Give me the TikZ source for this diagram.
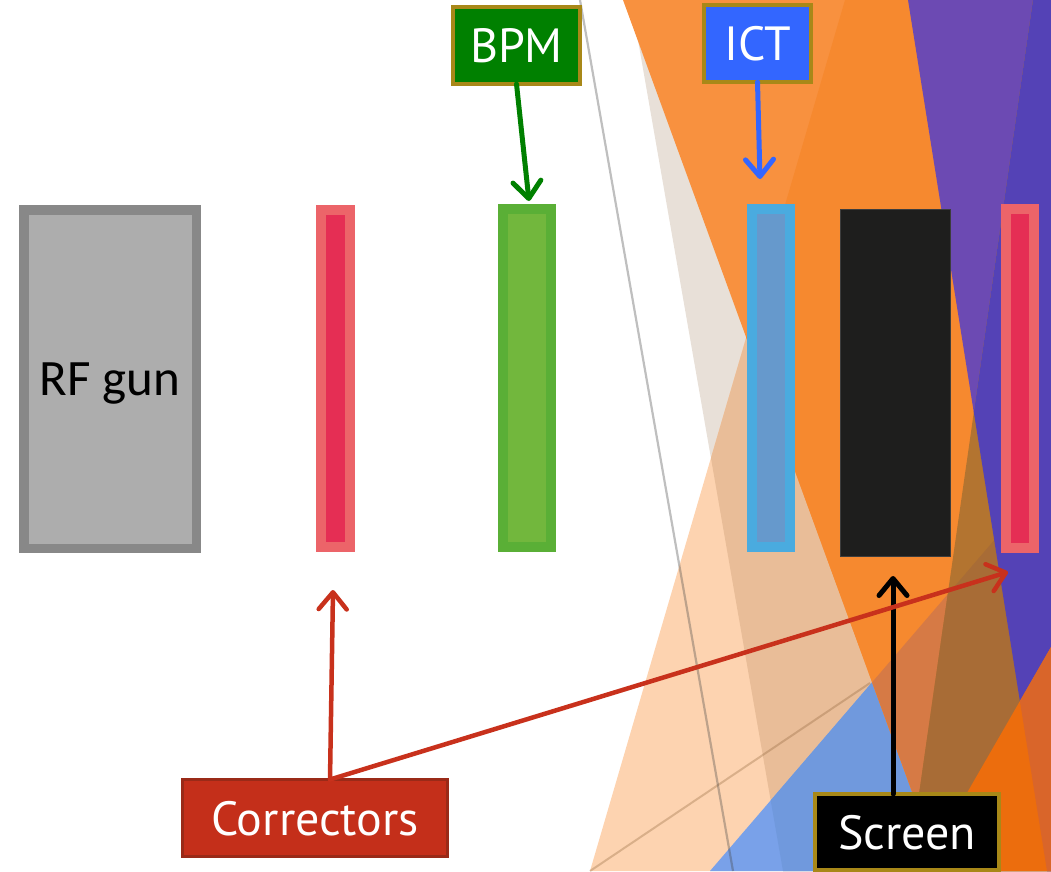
\documentclass[tikz,border=0pt]{standalone}
\usepackage{fontspec}
\usetikzlibrary{arrows.meta}
\newfontfamily\labfont{PT Sans}
\newfontfamily\gunfont{Carlito}

% background facets
\definecolor{beige}{HTML}{E8E0D8}
\definecolor{peach}{HTML}{FDD3B0}
\definecolor{tan}{HTML}{E9BD98}
\definecolor{bluelite}{HTML}{79A1E9}
\definecolor{bluedim}{HTML}{7099DD}
\definecolor{orglite}{HTML}{F8913F}
\definecolor{orgmain}{HTML}{F6892F}
\definecolor{orgblue}{HTML}{D67A45}
\definecolor{purlite}{HTML}{6C4AB3}
\definecolor{purdark}{HTML}{5442B6}
\definecolor{brownup}{HTML}{B37430}
\definecolor{brownlow}{HTML}{A86C36}
\definecolor{orgbright}{HTML}{EC6D0D}
\definecolor{orgrust}{HTML}{D9652A}
\definecolor{facetline}{HTML}{474747}
\definecolor{facetbrown}{HTML}{865C32}
% beamline elements
\definecolor{gunborder}{HTML}{888888}
\definecolor{gunfill}{HTML}{ADADAD}
\definecolor{corrborder}{HTML}{EC6469}
\definecolor{corrfill}{HTML}{E52E54}
\definecolor{bpmborder}{HTML}{5AAF36}
\definecolor{bpmfill}{HTML}{72B73D}
\definecolor{ictborder}{HTML}{4AABDF}
\definecolor{ictfill}{HTML}{6699CC}
\definecolor{scrfill}{HTML}{1E1E1D}
\definecolor{scrborder}{HTML}{3D3D3D}
% labels
\definecolor{labgold}{HTML}{A88818}
\definecolor{bpmgreen}{HTML}{008000}
\definecolor{ictblue}{HTML}{3366FF}
\definecolor{corrred}{HTML}{C42F1A}
\definecolor{corrdark}{HTML}{9A2A18}
\definecolor{arrred}{HTML}{C8311C}

\begin{document}
\begin{tikzpicture}[x=1pt,y=-1pt,
  elem/.style={rectangle, inner sep=0pt, outer sep=0pt},
  lab/.style={rectangle, inner sep=0pt, outer sep=0pt, line width=4pt, draw=labgold,
    text=white, font=\labfont\fontsize{48}{48}\selectfont, text height=34pt, text depth=0pt},
  arr/.style={line width=5pt, line cap=round, -{Straight Barb[length=17pt,width=28pt,round]}}]
\useasboundingbox (0,0) rectangle (1051,871);
\clip (0,0) rectangle (1051,871);

% half-planes bounded by the facet edges
\def\HB{(631,0) -- (1100,0) -- (1100,871) -- (783,871) -- cycle}
\def\HC{(623,0) -- (1100,0) -- (1100,871) -- (941,871) -- cycle}
\def\HP{(845,0) -- (1100,0) -- (1100,871) -- (590,871) -- cycle}
\def\BL{(710,871) -- (1100,417) -- (1100,871) -- cycle}
\def\HQa{(908,0) -- (1100,0) -- (1100,871) -- (1047,871) -- cycle}
\def\HQb{(1033,0) -- (1100,0) -- (1100,871) -- (908,871) -- cycle}
\def\RR{(922,871) -- (1100,562) -- (1100,871) -- cycle}

% beige and peach facets
\fill[beige] \HB;
\fill[peach] \HP;
\begin{scope}\clip \HB; \fill[tan] \HP; \end{scope}
% blue facet
\fill[bluelite] \BL;
\begin{scope}\clip \HB; \fill[bluedim] \BL; \end{scope}
% thin diagonal rule
\draw[facetbrown, opacity=0.3, line width=2pt] (590,871) -- (870,683);
% orange facet
\fill[orglite] \HC;
\begin{scope}\clip \HC; \fill[orgmain] \HP; \end{scope}
\begin{scope}\clip \HC; \fill[orgblue] \BL; \end{scope}
% purple facets
\fill[purlite] \HQa;
\fill[brownup] \HQb;
\begin{scope}\clip \HQb; \fill[brownlow] \BL; \end{scope}
\begin{scope}\clip \HQa; \fill[purdark] \HQb; \end{scope}
% lower right orange facet
\fill[orgbright] \RR;
\begin{scope}\clip \RR; \fill[orgrust] \HQa; \end{scope}
% thin grey rule
\draw[facetline, opacity=0.35, line width=2.2pt] (580,0) -- (733,871);

% beamline elements
\node[elem, draw=gunborder, fill=gunfill, line width=9.5pt, minimum width=172.5pt, minimum height=338.5pt,
  font=\gunfont\fontsize{51}{51}\selectfont, text height=33pt, text depth=0pt] (gun) at (110,379) {RF gun};
\node[elem, draw=corrborder, fill=corrfill, line width=10pt, minimum width=29pt, minimum height=337pt] (corra) at (335.5,378.5) {};
\node[elem, draw=bpmborder, fill=bpmfill, line width=10pt, minimum width=48pt, minimum height=338pt] (bpm) at (527,378) {};
\node[elem, draw=ictborder, fill=ictfill, line width=10pt, minimum width=38pt, minimum height=338pt] (ict) at (771,378) {};
\node[elem, draw=scrborder, fill=scrfill, line width=1pt, minimum width=110pt, minimum height=347pt] (scr) at (895.5,383) {};
\node[elem, draw=corrborder, fill=corrfill, line width=10pt, minimum width=28pt, minimum height=339pt] (corrb) at (1020,378.5) {};

% labels
\node[lab, fill=bpmgreen, minimum width=127pt, minimum height=77pt] (bpmlab) at (516.5,45.5) {BPM};
\node[lab, fill=ictblue, minimum width=107pt, minimum height=77pt] (ictlab) at (757.5,43.5) {ICT};
\node[lab, fill=black, minimum width=184pt, minimum height=76pt] (scrlab) at (907,832) {Screen};
\node[lab, fill=corrred, draw=corrdark, line width=3pt, minimum width=265pt, minimum height=77pt] (corrlab) at (315,818) {Correctors};

% arrow ends
\coordinate (bpmtip) at (529,201);
\coordinate (icttip) at (760,179);
\coordinate (scrtip) at (893,576);
\coordinate (corratip) at (333,590);
\coordinate (corrbtip) at (1008,572);

% arrows
\draw[arr, bpmgreen] (bpmlab.south) -- (bpmtip);
\draw[arr, ictblue] (ictlab.south) -- (icttip);
\draw[arr, black] (scrtip |- scrlab.north) -- (scrtip);
\draw[arr, arrred, line width=4.5pt] ([xshift=15pt]corrlab.north) -- (corratip);
\draw[arr, arrred, line width=4.5pt] ([xshift=15pt]corrlab.north) -- (corrbtip);
\end{tikzpicture}
\end{document}
